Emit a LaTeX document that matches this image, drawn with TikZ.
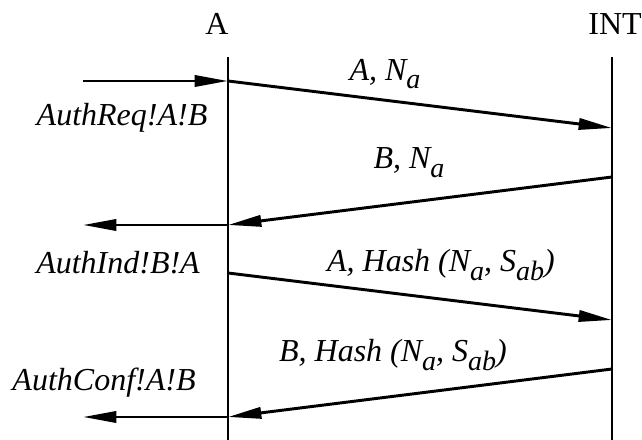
\documentclass[tikz,border=0pt]{standalone}
\usepackage{fontspec}
\setmainfont{Liberation Serif}
\usepackage{tikz}
\usetikzlibrary{arrows.meta}

\newcommand{\subsc}[1]{\raisebox{-0.6ex}{\fontsize{10.5}{12}\selectfont #1}}

\begin{document}
\begin{tikzpicture}[x=0.375pt,y=-0.375pt,
  life/.style={line width=0.8pt},
  msg/.style={line width=1.1pt,-{Triangle[length=12.5pt,width=4.2pt]}},
  lbl/.style={font=\fontsize{12}{14}\selectfont\itshape,inner sep=0pt},
  head/.style={font=\fontsize{12}{14}\selectfont,inner sep=0pt}]
\useasboundingbox (0,0) rectangle (642,440);

\node[head] (hA) at (217,24) {A};
\node[head] (hI) at (615,24) {INT};

\coordinate (topA) at (228,57);
\coordinate (botA) at (228,440);
\coordinate (topI) at (612,57);
\coordinate (botI) at (612,440);
\draw[life] (topA) -- (botA);
\draw[life] (topI) -- (botI);

\foreach \n/\y in {1/81,2/225,3/273,4/417}
	\coordinate (a\n) at (228,\y);
\foreach \n/\y in {1/128,2/177,3/320,4/369}
	\coordinate (i\n) at (612,\y);
\foreach \n/\y in {1/81,2/225,3/417}
	\coordinate (e\n) at (83,\y);

\draw[msg] (e1) -- (a1);
\draw[msg] (a1) -- (i1);
\draw[msg] (i2) -- (a2);
\draw[msg] (a2) -- (e2);
\draw[msg] (a3) -- (i3);
\draw[msg] (i4) -- (a4);
\draw[msg] (a4) -- (e3);

\node[lbl] (req) at (122,118) {AuthReq!A!B};
\node[lbl] (ind) at (118,263) {AuthInd!B!A};
\node[lbl] (conf) at (104,383) {AuthConf!A!B};

\node[lbl] (m1) at (385,74) {A, N\subsc{a}};
\node[lbl] (m2) at (409,163) {B, N\subsc{a}};
\node[lbl] (m3) at (441,265) {A, Hash (N\subsc{a}, S\subsc{ab})};
\node[lbl] (m4) at (393,355) {B, Hash (N\subsc{a}, S\subsc{ab})};
\end{tikzpicture}
\end{document}
